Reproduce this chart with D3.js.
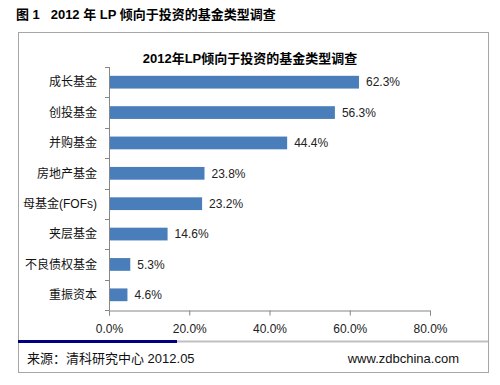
<!DOCTYPE html>
<html>
<head>
<meta charset="utf-8">
<script src="https://cdn.jsdelivr.net/npm/d3@7"></script>
<style>
    body { margin: 0; background: #fff; }
    svg { display: block; font-family: "Liberation Sans", Arial, "Noto Sans CJK SC", sans-serif; }
</style>
</head>
<body>
<svg id="chart" width="500" height="385"></svg>
<script>
"use strict";

const categories = ['成长基金', '创投基金', '并购基金', '房地产基金', '母基金(FOFs)', '夹层基金', '不良债权基金', '重振资本'];
const values = [62.3, 56.3, 44.4, 23.8, 23.2, 14.6, 5.3, 4.6];
const xTicks = [0, 20, 40, 60, 80];

const svg = d3.select('#chart');

// page heading above the frame
svg.append('text')
    .attr('x', 16).attr('y', 19)
    .style('white-space', 'pre')
    .attr('font-size', 13).attr('font-weight', 'bold').attr('fill', '#000')
    .text('图 1   2012 年 LP 倾向于投资的基金类型调查');

// frame
svg.append('rect')
    .attr('x', 18.5).attr('y', 32.5).attr('width', 470).attr('height', 340)
    .attr('fill', 'none').attr('stroke', '#a6a6a6');

svg.append('text')
    .attr('x', 250).attr('y', 63)
    .attr('text-anchor', 'middle')
    .attr('font-size', 13).attr('font-weight', 'bold').attr('fill', '#000')
    .text('2012年LP倾向于投资的基金类型调查');

const x = d3.scaleLinear().domain([0, 80]).range([109, 430]);
const y = d3.scaleBand().domain(categories).range([67, 310]).paddingInner(0.58).paddingOuter(0.29);

// bars
svg.append('g').selectAll('rect').data(values).join('rect')
    .attr('x', x(0))
    .attr('y', (d, i) => y(categories[i]))
    .attr('width', d => x(d) - x(0))
    .attr('height', y.bandwidth())
    .attr('fill', '#4a7ebb');

// value labels
svg.append('g').selectAll('text').data(values).join('text')
    .attr('x', d => x(d) + 7)
    .attr('y', (d, i) => y(categories[i]) + y.bandwidth() / 2)
    .attr('dy', '0.35em')
    .attr('font-size', 12).attr('fill', '#222')
    .text(d => d.toFixed(1) + '%');

// y axis: category labels with outer ticks between bands
const yAxisGroup = svg.append('g').attr('transform', `translate(${x(0)},0)`);
yAxisGroup.append('line')
    .attr('x1', 0.5).attr('x2', 0.5).attr('y1', 67).attr('y2', 310)
    .attr('stroke', '#868686');
const boundaries = d3.range(categories.length + 1).map(i => 67 + i * (310 - 67) / categories.length);
yAxisGroup.selectAll('.tick').data(boundaries).join('line')
    .attr('x1', -4).attr('x2', 0.5)
    .attr('y1', d => Math.round(d) + 0.5).attr('y2', d => Math.round(d) + 0.5)
    .attr('stroke', '#868686');
yAxisGroup.selectAll('text').data(categories).join('text')
    .attr('x', -12)
    .attr('y', d => y(d) + y.bandwidth() / 2)
    .attr('dy', '0.35em')
    .attr('text-anchor', 'end')
    .attr('font-size', 12).attr('fill', '#111')
    .text(d => d);

// x axis
const xAxis = d3.axisBottom(x).tickValues(xTicks).tickSize(5).tickPadding(9)
    .tickFormat(d => d.toFixed(1) + '%');
const xAxisGroup = svg.append('g').attr('transform', 'translate(0,310.5)').call(xAxis);
xAxisGroup.select('.domain').attr('stroke', '#868686');
xAxisGroup.selectAll('.tick line').attr('stroke', '#868686');
xAxisGroup.selectAll('.tick text')
    .attr('font-size', 12).attr('fill', '#222')
    .attr('font-family', '"Liberation Sans", Arial, sans-serif');

// footer separator
svg.append('line')
    .attr('x1', 177).attr('x2', 488).attr('y1', 341.5).attr('y2', 341.5)
    .attr('stroke', '#c0c0c0').attr('stroke-width', 2);
svg.append('line')
    .attr('x1', 18).attr('x2', 177).attr('y1', 341.5).attr('y2', 341.5)
    .attr('stroke', '#000080').attr('stroke-width', 3);

svg.append('text')
    .attr('x', 27).attr('y', 363)
    .attr('font-size', 13).attr('fill', '#111')
    .text('来源：清科研究中心 2012.05');
svg.append('text')
    .attr('x', 459).attr('y', 363)
    .attr('text-anchor', 'end')
    .attr('font-size', 13).attr('fill', '#111')
    .text('www.zdbchina.com');
</script>
</body>
</html>
